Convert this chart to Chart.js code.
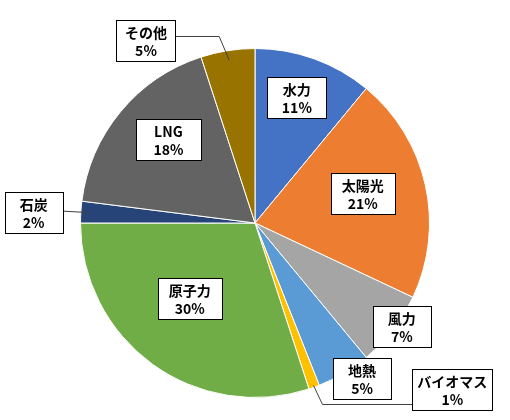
<!DOCTYPE html>
<html>
<head>
<meta charset="utf-8">
<script src="https://cdn.jsdelivr.net/npm/chart.js@4"></script>
<style>
  html, body { margin: 0; padding: 0; background: #fff; }
  #wrap { width: 510px; height: 420px; }
</style>
</head>
<body>
<div id="wrap"><canvas id="myChart"></canvas></div>
<script>
// 電源構成（%）
const categories = ['水力', '太陽光', '風力', '地熱', 'バイオマス', '原子力', '石炭', 'LNG', 'その他'];
const shares = [11, 21, 7, 5, 1, 30, 2, 18, 5];
const colors = ['#4472C4', '#ED7D31', '#A5A5A5', '#5B9BD5', '#FFC000', '#70AD47', '#264478', '#636363', '#997300'];

// ラベルの置き場所（半径比、中心角からのずれ[度]、箱の幅）
const labelLayout = [
  { r: 0.76, da: -1.4, w: 59 },
  { r: 0.64, da: -2.6, w: 64 },
  { r: 1.03, da: -2.6, w: 58 },
  { r: 1.08, da: -4, w: 58 },
  { r: 1.48, da: -30, w: 80, leader: 'left' },
  { r: 0.57, da: 5, w: 64 },
  { r: 1.27, da: -0.8, w: 58, leader: 'straight' },
  { r: 0.69, da: 4.4, w: 65 },
  { r: 1.22, da: -21.8, w: 59, leader: 'right' }
];

const FONT = 'bold 14px "Noto Sans CJK JP", "Noto Sans", sans-serif';

// データラベルを描くプラグイン
const boxLabels = {
  id: 'boxLabels',
  afterDatasetsDraw(chart) {
    const c = chart.ctx;
    const arcs = chart.getDatasetMeta(0).data;
    c.save();
    c.font = FONT;
    arcs.forEach((arc, i) => {
      const p = arc.getProps(['x', 'y', 'startAngle', 'endAngle', 'outerRadius'], true);
      const R = p.outerRadius;
      const mid = (p.startAngle + p.endAngle) / 2;
      const lay = labelLayout[i];
      const a = mid + lay.da * Math.PI / 180;
      const cx = p.x + Math.cos(a) * R * lay.r;
      const cy = p.y + Math.sin(a) * R * lay.r;

      const w = lay.w;
      const h = 41;
      const bx = Math.round(cx - w / 2) + 0.5;
      const by = Math.round(cy - h / 2) + 0.5;

      // 引き出し線
      if (lay.leader) {
        const rEnd = lay.leader === 'left' ? 0.99 : 0.945;
        const ex = p.x + Math.cos(mid) * R * rEnd;
        const ey = p.y + Math.sin(mid) * R * rEnd;
        c.strokeStyle = '#404040';
        c.lineWidth = 1;
        c.beginPath();
        if (lay.leader === 'straight') {
          c.moveTo(bx + w, cy - 1);
          c.lineTo(ex, ey);
        } else if (lay.leader === 'right') {
          const sy = Math.round(cy - 4) + 0.5;
          c.moveTo(bx + w, sy);
          c.lineTo(ex - 10, sy);
          c.lineTo(ex, ey);
        } else {
          const sy = Math.round(cy + 14) + 0.5;
          c.moveTo(bx, sy);
          c.lineTo(ex + 9, sy);
          c.lineTo(ex, ey);
        }
        c.stroke();
      }

      c.fillStyle = '#ffffff';
      c.fillRect(bx, by, w, h);
      c.strokeStyle = '#000000';
      c.lineWidth = 1;
      c.strokeRect(bx, by, w, h);

      c.fillStyle = '#000000';
      c.textAlign = 'center';
      c.textBaseline = 'middle';
      c.fillText(categories[i], cx, by + h / 2 - 8.5);
      c.fillText(shares[i] + '%', cx, by + h / 2 + 9.5);
    });
    c.restore();
  }
};

const ctx = document.getElementById('myChart').getContext('2d');
const chart = new Chart(ctx, {
  type: 'pie',
  data: {
    labels: categories,
    datasets: [{
      data: shares,
      backgroundColor: colors,
      borderColor: '#ffffff',
      borderWidth: 1,
      hoverOffset: 0
    }]
  },
  options: {
    events: [],
    animation: false,
    responsive: true,
    maintainAspectRatio: false,
    layout: {
      padding: { top: 48, bottom: 22, left: 0, right: 0 }
    },
    plugins: {
      legend: { display: false },
      tooltip: { enabled: false }
    }
  },
  plugins: [boxLabels]
});
</script>
</body>
</html>
